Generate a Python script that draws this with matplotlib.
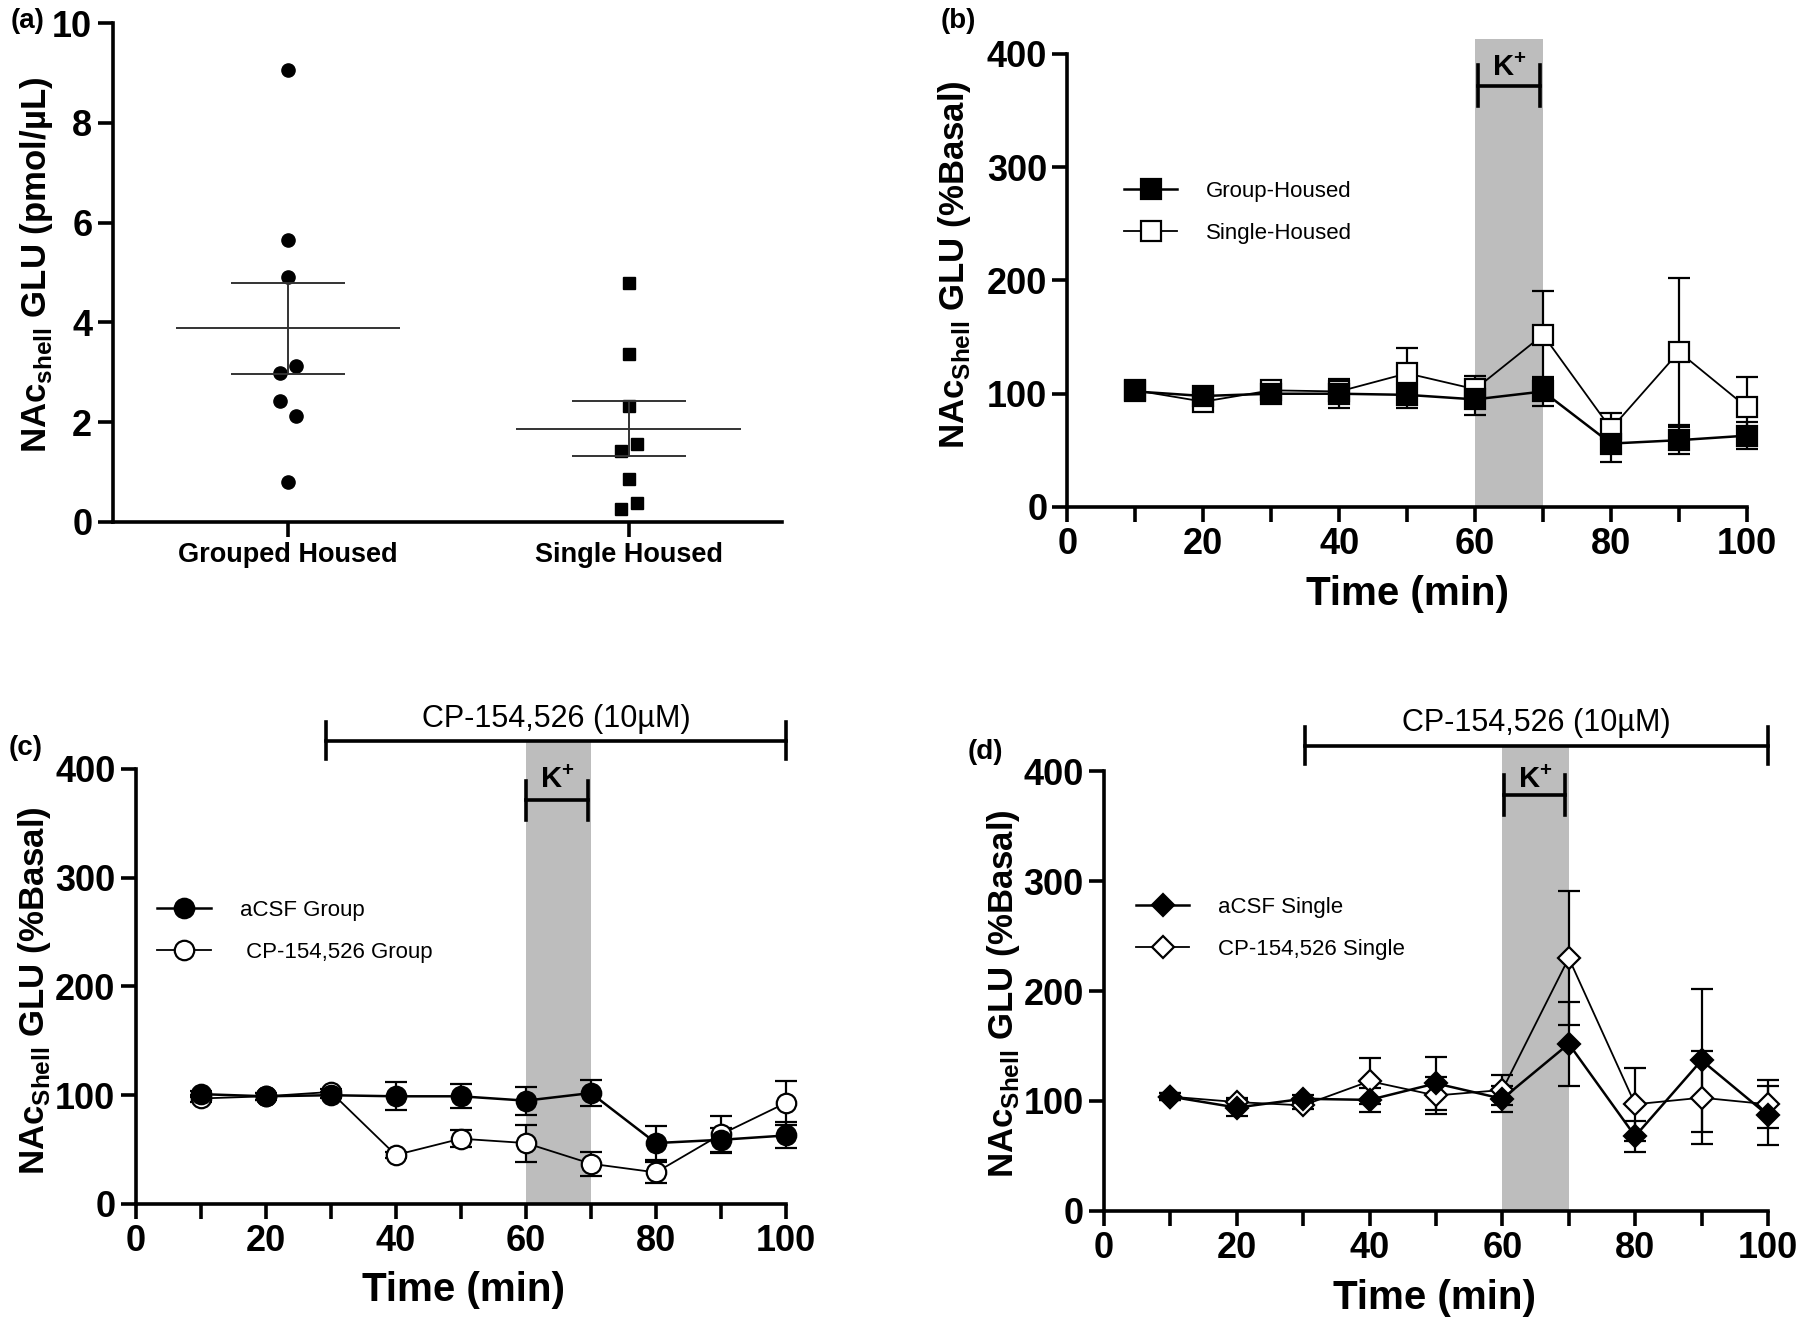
import matplotlib
matplotlib.use("Agg")
import matplotlib.pyplot as plt
from matplotlib.patches import Rectangle
import numpy as np

plt.rcParams['font.family'] = ['Liberation Sans', 'DejaVu Sans']
plt.rcParams['mathtext.fontset'] = 'custom'
plt.rcParams['mathtext.rm'] = 'Liberation Sans'
plt.rcParams['mathtext.bf'] = 'Liberation Sans:bold'

# ---- Data ----
# (a) baseline glutamate
groups = ["Grouped Housed", "Single Housed"]
grouped_vals = [9.05, 5.65, 4.9, 3.12, 2.98, 2.42, 2.12, 0.8]
single_vals = [4.78, 3.37, 2.32, 1.55, 1.42, 0.85, 0.38, 0.25]

# time course (min)
time = [10, 20, 30, 40, 50, 60, 70, 80, 90, 100]
k_window = (60, 70)
cp_window = (30, 100)

# (b)
group_housed = [102, 98, 100, 100, 99, 95, 102, 56, 59, 63]
group_housed_err = [4, 5, 5, 13, 12, 14, 13, 16, 12, 12]
single_housed = [103, 93, 103, 102, 118, 104, 152, 69, 137, 88]
single_housed_err = [5, 6, 5, 5, 22, 12, 39, 14, 65, 27]

# (c)
acsf_group = [101, 99, 100, 99, 99, 95, 102, 56, 59, 63]
acsf_group_err = [3, 3, 3, 13, 11, 13, 12, 16, 11, 12]
cp_group = [97, 99, 103, 45, 60, 56, 37, 29, 64, 93]
cp_group_err = [3, 3, 3, 3, 8, 17, 11, 10, 17, 20]

# (d)
acsf_single = [104, 94, 102, 101, 116, 102, 152, 68, 137, 87]
acsf_single_err = [3, 8, 3, 11, 24, 12, 38, 14, 65, 27]
cp_single = [104, 99, 96, 118, 105, 110, 230, 97, 103, 97]
cp_single_err = [3, 4, 3, 21, 17, 14, 61, 33, 42, 22]

# ---- Style ----
band_grey = "#bdbdbd"
spine_w = 2.6
tick_size = 26
label_font = dict(size=29, weight="bold")
ylab_font = dict(size=25, weight="bold")

fig = plt.figure(figsize=(18, 13.21), dpi=100)


def style_axis(ax):
    for s in ["top", "right"]:
        ax.spines[s].set_visible(False)
    for s in ["left", "bottom"]:
        ax.spines[s].set_linewidth(spine_w)
    ax.tick_params(width=spine_w, length=11, labelsize=tick_size)
    for lab in ax.get_xticklabels() + ax.get_yticklabels():
        lab.set_fontweight("bold")


def style_time_axis(ax, band_top):
    ax.set_xlim(0, 100)
    ax.set_ylim(0, 400)
    ax.set_xticks(np.arange(0, 101, 20))
    ax.set_xticks(np.arange(10, 100, 20), minor=True)
    ax.set_yticks(np.arange(0, 401, 100))
    ax.tick_params(which="minor", width=spine_w, length=11)
    style_axis(ax)
    ax.add_patch(Rectangle((k_window[0], 0), k_window[1] - k_window[0], band_top,
                           facecolor=band_grey, edgecolor="none", clip_on=False, zorder=0))


def bracket(ax, x0, x1, y, h, text, text_y, size, weight):
    ax.plot([x0, x1], [y, y], color="black", lw=2.6, clip_on=False)
    ax.plot([x0, x0], [y - h, y + h], color="black", lw=2.6, clip_on=False)
    ax.plot([x1, x1], [y - h, y + h], color="black", lw=2.6, clip_on=False)
    ax.text((x0 + x1) / 2, text_y, text, ha="center", va="center", size=size,
            weight=weight)


def series(ax, y, err, marker, filled, ms):
    lw = 1.8 if filled else 1.3
    cont = ax.errorbar(time, y, yerr=err, color="black", marker=marker, ms=ms,
                       mfc="black" if filled else "white", mec="black", mew=1.6,
                       lw=lw, elinewidth=1.6, capsize=8, capthick=1.6)
    for art in cont.get_children():
        art.set_clip_on(False)
    return cont[0]


def ylabel(ax, sub, rest, x, y):
    ax.set_ylabel("NAc$_{\\mathbf{" + sub + "}}$ GLU " + rest, **ylab_font)
    ax.yaxis.set_label_coords(x, y)


def xlabel(ax, x, y):
    ax.set_xlabel("Time (min)", **label_font)
    ax.xaxis.set_label_coords(x, y)


def legend(ax, handles, labels, x, y):
    ax.legend(handles, labels, loc="upper left", bbox_to_anchor=(x, y), frameon=False,
              fontsize=16, handlelength=2.4, handletextpad=1.3, labelspacing=0.95,
              borderaxespad=0)


# ---- (a) ----
ax_a = fig.add_axes([0.0625, 0.605, 0.372, 0.3775])
grouped_jitter = [0, 0, 0, 0.024, -0.024, -0.024, 0.024, 0]
single_jitter = [0, 0, 0, 0.024, -0.024, 0, 0.024, -0.024]
for i, (vals, jit, mk, ms) in enumerate([(grouped_vals, grouped_jitter, "o", 9.5),
                                          (single_vals, single_jitter, "s", 8.5)]):
    ax_a.plot(np.array(jit) + i, vals, linestyle="none", marker=mk, ms=ms, color="black")
    m = np.mean(vals)
    sem = np.std(vals, ddof=1) / np.sqrt(len(vals))
    ax_a.hlines(m, i - 0.33, i + 0.33, color="#333333", lw=1.4)
    ax_a.hlines([m - sem, m + sem], i - 0.167, i + 0.167, color="#333333", lw=1.4)
    ax_a.vlines(i, m - sem, m + sem, color="#333333", lw=1.4)
ax_a.set_xlim(-0.515, 1.45)
ax_a.set_ylim(0, 10)
ax_a.set_yticks(np.arange(0, 11, 2))
ax_a.set_xticks([0, 1])
ax_a.set_xticklabels(groups)
style_axis(ax_a)
for lab in ax_a.get_xticklabels():
    lab.set_fontsize(19.5)
ylabel(ax_a, "shell", "(pmol/\u00b5L)", -0.086, 0.515)

# ---- (b) ----
ax_b = fig.add_axes([0.593, 0.6162, 0.3775, 0.343])
style_time_axis(ax_b, 413)
h_single = series(ax_b, single_housed, single_housed_err, "s", False, 14)
h_group = series(ax_b, group_housed, group_housed_err, "s", True, 14)
bracket(ax_b, 60.5, 69.5, 372, 18, "$\\mathbf{K^{+}}$", 388, 21, "bold")
ylabel(ax_b, "Shell", "(%Basal)", -0.139, 0.536)
xlabel(ax_b, 0.5, -0.15)
legend(ax_b, [h_group, h_single], ["Group-Housed", "Single-Housed"], 0.07, 0.74)

# ---- (c) ----
ax_c = fig.add_axes([0.0753, 0.0886, 0.3614, 0.3293])
style_time_axis(ax_c, 426)
h_cp = series(ax_c, cp_group, cp_group_err, "o", False, 14)
h_acsf = series(ax_c, acsf_group, acsf_group_err, "o", True, 14)
bracket(ax_c, cp_window[0] - 0.7, cp_window[1], 426, 17, "CP-154,526 (10\u00b5M)", 446, 22, "normal")
bracket(ax_c, 60, 69.5, 371, 18, "$\\mathbf{K^{+}}$", 390, 21, "bold")
ylabel(ax_c, "Shell", "(%Basal)", -0.127, 0.49)
xlabel(ax_c, 0.504, -0.155)
legend(ax_c, [h_acsf, h_cp], ["aCSF Group", " CP-154,526 Group"], 0.02, 0.72)

# ---- (d) ----
ax_d = fig.add_axes([0.6133, 0.0833, 0.3689, 0.333])
style_time_axis(ax_d, 423)
h_cp = series(ax_d, cp_single, cp_single_err, "D", False, 11)
h_acsf = series(ax_d, acsf_single, acsf_single_err, "D", True, 11)
bracket(ax_d, cp_window[0] + 0.3, cp_window[1], 423, 17, "CP-154,526 (10\u00b5M)", 444, 22, "normal")
bracket(ax_d, 60.3, 69.5, 378, 18, "$\\mathbf{K^{+}}$", 392, 21, "bold")
ylabel(ax_d, "Shell", "(%Basal)", -0.123, 0.495)
xlabel(ax_d, 0.498, -0.155)
legend(ax_d, [h_acsf, h_cp], ["aCSF Single", "CP-154,526 Single"], 0.035, 0.735)

# panel letters
for txt, x, y in [("(a)", 11, 21), ("(b)", 941, 21), ("(c)", 9, 748), ("(d)", 968, 752)]:
    fig.text(x / 1800, 1 - y / 1321, txt, ha="left", va="center", size=20, weight="bold")

fig.savefig("out.png", dpi=100)
